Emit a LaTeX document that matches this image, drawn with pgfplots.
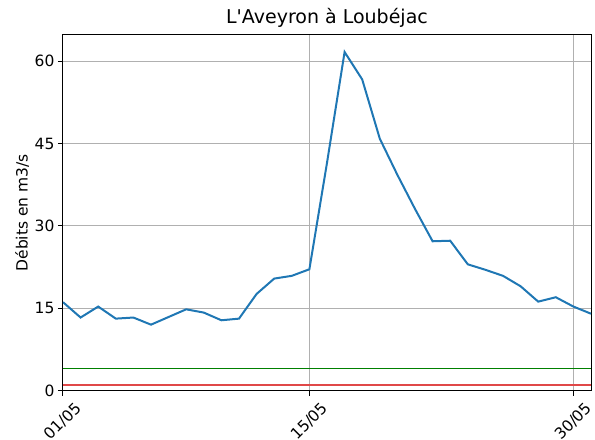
\documentclass[border=0pt]{standalone}
\usepackage{fontspec}
\setmainfont{DejaVu Sans}
\newfontfamily\plainfont{DejaVu Sans}
\usepackage{pgfplots}
\pgfplotsset{compat=1.18}
\usetikzlibrary{calc}
\definecolor{mplblue}{HTML}{1F77B4}
\definecolor{gridgray}{HTML}{B0B0B0}
\definecolor{mplred}{HTML}{E04848}
\definecolor{mplgreen}{HTML}{008000}
\begin{document}
\begin{tikzpicture}
\begin{axis}[
  scale only axis,
  width=528pt, height=355.5pt,
  xmin=0, xmax=30, ymin=0, ymax=64.8,
  xtick={0,14,29},
  xticklabels={01/05,15/05,30/05},
  ytick={0,15,30,45,60},
  xtick pos=bottom, ytick pos=left,
  grid=major,
  major grid style={color=gridgray, line width=1pt},
  tick align=outside,
  major tick length=5pt,
  tick style={black, line width=1pt},
  axis line style={black, line width=1pt},
  /pgf/number format/assume math mode=true,
  tick label style={font=\fontsize{15.5}{18}\selectfont},
  xticklabel style={yshift=-26pt, rotate=45, anchor=center},
  title={\plainfont L'Aveyron à Loubéjac},
  title style={font=\fontsize{19}{22}\selectfont, at={(axis description cs:0.5,1)}, anchor=base, yshift=5.7pt},
  ylabel={Débits en m3/s},
  ylabel style={font=\fontsize{15.5}{18}\selectfont, at={(axis description cs:-0.0672,0.5)}, anchor=base},
  clip=true,
]
\addplot[mplgreen, line width=1.6pt] coordinates {(0,4.0) (30,4.0)};
\addplot[mplred, line width=2.4pt] coordinates {(0,1.0) (30,1.0)};
\addplot[mplblue, line width=2pt] coordinates {
(0,16.1) (1,13.3) (2,15.3) (3,13.1) (4,13.3) (5,12.0) (6,13.4) (7,14.8)
(8,14.2) (9,12.8) (10,13.1) (11,17.6) (12,20.4) (13,20.9) (14,22.1)
(15,41.5) (16,61.7) (17,56.7) (18,45.9) (19,39.3) (20,33.1) (21,27.2)
(22,27.3) (23,23.0) (24,22.0) (25,20.9) (26,19.0) (27,16.2) (28,17.0)
(29,15.3) (30,14.0)};
\end{axis}
\pgfresetboundingbox
\path ($(current axis.south west)+(-63pt,-49pt)$) rectangle ($(current axis.north east)+(4pt,35pt)$);
\end{tikzpicture}
\end{document}
